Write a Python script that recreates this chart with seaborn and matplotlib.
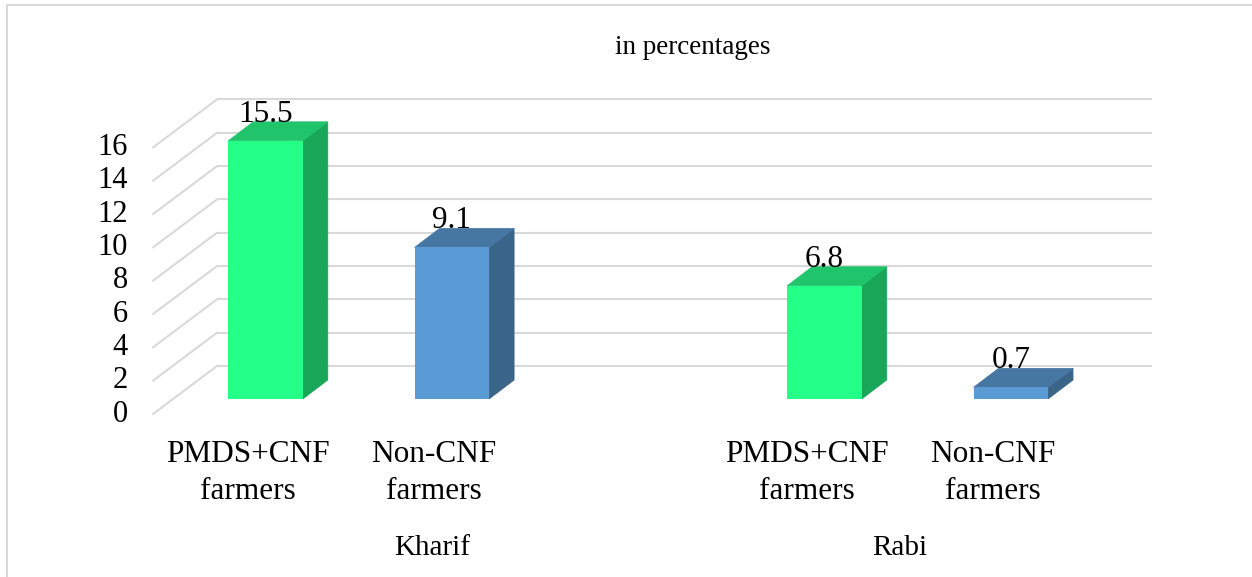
import matplotlib
matplotlib.use("Agg")
import matplotlib.pyplot as plt
from matplotlib.patches import Polygon, Rectangle
import pandas as pd
import seaborn as sns

# data
seasons = ["Kharif", "Kharif", "Rabi", "Rabi"]
groups = ["PMDS+CNF farmers", "Non-CNF farmers", "PMDS+CNF farmers", "Non-CNF farmers"]
values = [15.5, 9.1, 6.8, 0.7]
tick_labels = ["PMDS+CNF\nfarmers", "Non-CNF\nfarmers", "PMDS+CNF\nfarmers", "Non-CNF\nfarmers"]
y_ticks = list(range(0, 17, 2))
group_order = ["PMDS+CNF farmers", "Non-CNF farmers"]

front_colors = {"PMDS+CNF farmers": "#24FF88", "Non-CNF farmers": "#5B9BD5"}
side_colors = {"PMDS+CNF farmers": "#18A758", "Non-CNF farmers": "#3A6589"}
top_colors = {"PMDS+CNF farmers": "#1FC46B", "Non-CNF farmers": "#4677A3"}
grid_color = "#D9D9D9"

df = pd.DataFrame({
    "slot": [f"{s} {g}" for s, g in zip(seasons, groups)],
    "group": groups,
    "value": values,
})
order = [df.slot[0], df.slot[1], "", df.slot[2], df.slot[3]]

sns.set_theme(style="white")
plt.rcParams["font.family"] = ["Liberation Serif", "DejaVu Serif"]
plt.rcParams["text.color"] = "black"

W, H = 1252, 577
fig = plt.figure(figsize=(W / 100, H / 100), dpi=100)
ax = fig.add_axes([153 / W, 1 - 420 / H, (1152 - 153) / W, (420 - 92) / H])

sns.barplot(data=df, x="slot", y="value", hue="group", hue_order=group_order,
            order=order, palette=front_colors, dodge=False, width=0.4,
            saturation=1, errorbar=None, legend=False, ax=ax, zorder=3,
            linewidth=0)

x0, x1 = -0.604, 4.758
y0, y1 = -1.26, 18.43
ax.set_xlim(x0, x1)
ax.set_ylim(y0, y1)
ax.axis("off")

# pixel -> data scale
sx = ax.bbox.width / (x1 - x0)
sy = ax.bbox.height / (y1 - y0)

# 3D depth offsets (pixels) relative to the bar front plane
fdx, fdy = -20 / sx, -15 / sy   # front of floor
bdx, bdy = 25 / sx, 19 / sy     # bar depth
wdx, wdy = 44 / sx, 33 / sy     # back wall

plane_left = x0 - fdx
back_left = plane_left + wdx

for v in y_ticks:
    ax.plot([back_left, x1], [v + wdy, v + wdy], color=grid_color, lw=1.5,
            zorder=1, clip_on=False, solid_capstyle="butt")
    ax.plot([x0, back_left], [v + fdy, v + wdy], color=grid_color, lw=1.5,
            zorder=1, clip_on=False)
    ax.annotate(str(v), xy=(x0, v + fdy), xytext=(-25, 0), textcoords="offset pixels",
                ha="right", va="center", fontsize=22, color="black",
                annotation_clip=False)

for cont, level in zip(ax.containers, group_order):
    for p in cont:
        h = p.get_height()
        xl = p.get_x()
        xr = xl + p.get_width()
        side = Polygon([(xr, 0), (xr + bdx, bdy), (xr + bdx, h + bdy), (xr, h)],
                       closed=True, facecolor=side_colors[level],
                       edgecolor=side_colors[level], lw=0.5, zorder=2)
        top = Polygon([(xl, h), (xl + bdx, h + bdy), (xr + bdx, h + bdy), (xr, h)],
                      closed=True, facecolor=top_colors[level],
                      edgecolor=top_colors[level], lw=0.5, zorder=2)
        ax.add_patch(side)
        ax.add_patch(top)
        ax.annotate(f"{h:g}", xy=((xl + xr) / 2, h + bdy), ha="center",
                    va="baseline", fontsize=22.5, color="black", zorder=5,
                    annotation_clip=False)

# category labels on the front plane
positions = [order.index(s) for s in df.slot]
for pos, lab in zip(positions, tick_labels):
    ax.annotate(lab, xy=(pos, y0), xytext=(-18, -20), textcoords="offset pixels",
                ha="center", va="top", fontsize=22.5, linespacing=1.35,
                annotation_clip=False)

fig.text(432 / W, 1 - 548 / H, "Kharif", ha="center", va="center", fontsize=21)
fig.text(900 / W, 1 - 548 / H, "Rabi", ha="center", va="center", fontsize=21)
fig.text(693 / W, 1 - 47 / H, "in percentages", ha="center", va="center", fontsize=19.5)

fig.add_artist(Rectangle((7 / W, -0.1), 1.2, 1.1 - 5 / H, transform=fig.transFigure,
                         fill=False, edgecolor=grid_color, lw=1.5))

fig.savefig("out.png", dpi=100)
